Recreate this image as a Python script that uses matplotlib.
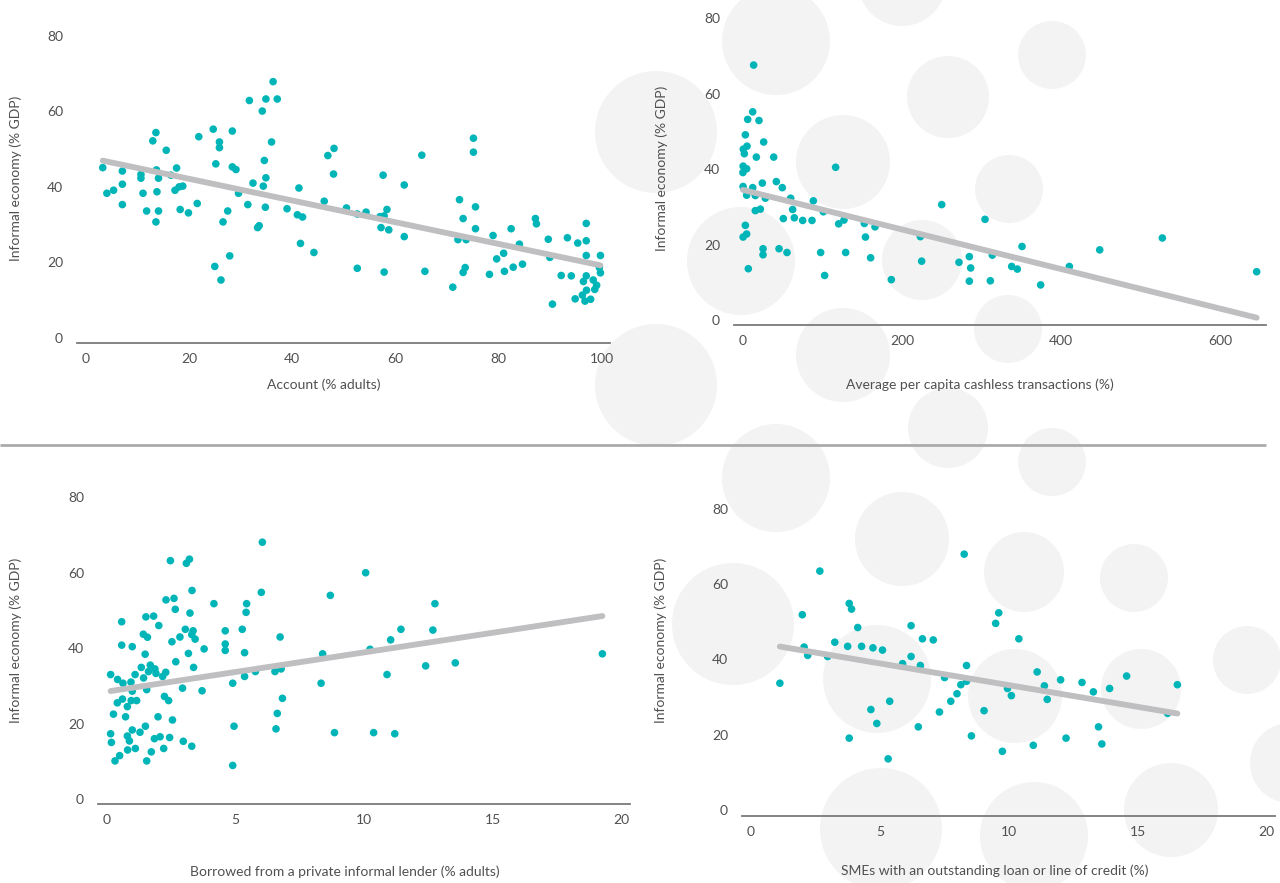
import matplotlib
matplotlib.use("Agg")
import matplotlib.pyplot as plt
from matplotlib.patches import Circle
import numpy as np

W, H, DPI = 1280, 883, 100
plt.rcParams['font.family'] = ['Lato', 'DejaVu Sans']

TEAL = '#00b5b7'
TREND = '#bfbfc1'
TEXT = '#505050'
AXIS = '#7a7a7a'
BUBBLE = '#f2f3f2'

Y_TICKS = [0, 20, 40, 60, 80]
Y_LABEL = 'Informal economy (% GDP)'

# --- Account ownership (% adults) vs informal economy (% GDP)
account_pts = [
    (3.3, 45.1), (4.1, 38.3), (5.4, 39.1), (7.1, 44.2), (7.1, 40.7), (7.1, 35.3),
    (10.7, 43.3), (10.7, 42.3), (11.1, 38.3), (11.8, 33.6), (13.0, 52.2), (13.6, 54.4),
    (13.7, 44.5), (14.1, 42.3), (13.8, 38.7), (14.1, 33.6), (13.6, 30.7), (15.6, 49.7),
    (16.5, 43.1), (17.6, 45.0), (17.3, 39.1), (18.1, 40.0), (18.8, 40.2), (18.3, 34.0),
    (19.9, 33.1), (21.6, 35.6), (21.9, 53.3), (24.7, 55.3), (25.9, 51.9), (25.9, 50.4),
    (25.2, 46.1), (28.4, 54.8), (28.4, 45.3), (29.1, 44.6), (27.5, 33.6), (26.6, 30.7),
    (29.6, 38.3), (27.9, 21.7), (25.0, 18.9), (26.2, 15.3), (31.7, 62.9), (34.2, 60.1),
    (34.9, 63.3), (36.3, 67.9), (37.1, 63.3), (36.0, 51.9), (34.6, 47.0), (34.9, 42.4),
    (34.4, 40.2), (32.4, 41.0), (31.4, 35.3), (34.8, 34.6), (33.3, 29.2), (33.6, 29.7),
    (39.0, 34.2), (41.3, 39.7), (41.0, 32.6), (42.0, 32.0), (41.6, 25.0), (44.2, 22.6),
    (46.2, 36.2), (46.9, 48.3), (48.1, 50.2), (48.0, 43.4), (50.5, 34.4),
    (52.6, 32.8), (54.3, 33.3), (52.6, 18.4), (57.6, 43.1), (58.35, 34.0), (57.0, 32.1),
    (57.8, 32.3), (57.2, 29.2), (58.7, 28.6), (57.8, 17.4), (61.7, 40.5), (61.7, 26.8),
    (65.1, 48.4), (65.7, 17.6), (71.1, 13.4), (72.4, 36.6), (73.1, 31.6), (75.5, 34.7),
    (75.5, 28.9), (72.1, 26.0), (73.7, 26.0), (73.1, 17.3), (73.5, 18.6), (75.1, 52.9),
    (75.1, 49.2), (78.2, 16.8), (78.9, 27.1), (79.6, 20.9), (80.95, 22.4), (81.1, 17.6),
    (82.4, 28.9), (82.8, 18.7), (84.0, 24.8), (84.6, 19.5), (87.1, 31.6), (87.3, 30.2),
    (89.6, 26.1), (89.9, 21.3), (90.4, 8.9), (92.1, 16.5), (93.3, 26.5), (94.05, 16.4),
    (95.3, 25.1), (96.95, 30.3), (96.95, 25.7), (96.95, 21.8), (96.95, 16.4), (96.4, 14.9),
    (94.8, 10.3), (96.2, 11.3), (96.7, 9.7), (97.8, 10.2), (97.0, 12.6), (98.3, 15.3),
    (98.96, 13.9), (98.6, 12.8), (99.7, 21.8), (99.5, 18.6), (99.7, 17.2),
]
account_trend = (47.9, -0.288)          # intercept, slope
account_xticks = [0, 20, 40, 60, 80, 100]

# --- Average per capita cashless transactions vs informal economy
cashless_pts = [
    (13.5, 67.6), (12.3, 55.2), (6.0, 53.2), (20.2, 52.9), (3.1, 49.1), (26.1, 47.2),
    (5.2, 46.1), (0.5, 45.3), (1.8, 44.1), (16.9, 43.2), (38.7, 43.2), (0.3, 40.8),
    (4.7, 40.1), (0.0, 39.1), (116.5, 40.5), (0.2, 35.4), (12.3, 35.1), (24.4, 36.3),
    (42.0, 36.7), (49.5, 35.1), (4.7, 33.1), (15.6, 33.0), (28.2, 32.3), (60.0, 32.3),
    (88.5, 31.6), (62.5, 29.3), (15.6, 29.0), (21.9, 29.4), (50.8, 26.9), (64.6, 27.1),
    (75.1, 26.4), (86.8, 26.4), (101.1, 28.7), (120.3, 25.5), (127.0, 26.5), (152.6, 25.6),
    (166.0, 24.7), (154.0, 22.0), (3.1, 25.1), (0.3, 22.0), (4.7, 22.8), (25.3, 18.9),
    (25.3, 17.3), (45.4, 18.9), (55.4, 17.9), (97.7, 17.9), (129.1, 17.9), (160.5, 16.5),
    (6.8, 13.6), (102.7, 11.8),
    (186.5, 10.7), (249.8, 30.6), (223.0, 22.1), (224.6, 15.6), (271.5, 15.3), (284.5, 16.8),
    (286.2, 13.8), (284.5, 10.3), (304.2, 26.7), (310.9, 10.4), (313.4, 17.2), (337.7, 14.2),
    (344.8, 13.5), (350.7, 19.5), (374.1, 9.3), (410.2, 14.2), (448.3, 18.6), (527.0, 21.75),
    (645.5, 12.8),
]
cashless_trend = (34.5, -0.0525)
cashless_xticks = [0, 200, 400, 600]

# --- Borrowed from a private informal lender vs informal economy
lender_pts = [
    (6.05, 68.1), (2.48, 63.2), (3.10, 62.5), (3.22, 63.6), (3.32, 55.3), (6.01, 54.8),
    (8.69, 54.0), (10.06, 60.0), (2.31, 52.8), (2.62, 53.2), (2.67, 50.3), (3.24, 49.3),
    (4.17, 51.8), (5.44, 51.8), (5.42, 49.5), (0.59, 47.0), (1.53, 48.3), (1.83, 48.5),
    (2.03, 46.0), (1.43, 43.7), (1.59, 42.9), (3.06, 45.0), (3.36, 44.6), (2.85, 42.96),
    (3.31, 43.6), (3.44, 42.4), (2.54, 41.7), (4.61, 44.6), (4.61, 41.1), (4.61, 39.4),
    (5.27, 45.0), (6.74, 42.96), (5.36, 38.8), (0.59, 40.8), (1.0, 40.4), (1.5, 38.4),
    (3.18, 38.6), (3.79, 39.8), (2.69, 36.4), (3.38, 34.9), (1.35, 34.9), (1.70, 35.5),
    (1.88, 34.5), (1.92, 33.3), (1.63, 33.8), (2.3, 33.6), (2.18, 32.5), (1.44, 32.1),
    (1.11, 33.0), (0.16, 33.0), (0.43, 31.7), (0.64, 30.7), (0.95, 31.0), (1.56, 29.0),
    (1.0, 28.6), (2.95, 29.4), (3.71, 28.7), (4.90, 30.7), (5.36, 32.5), (5.78, 33.8),
    (6.54, 33.8), (6.78, 34.5), (8.39, 38.5), (8.33, 30.7), (0.42, 25.5), (0.62, 26.5),
    (0.81, 24.5), (0.96, 26.1), (1.17, 26.1), (2.25, 27.2), (2.41, 26.1), (0.27, 22.5),
    (0.74, 21.8), (2.0, 21.8), (2.56, 20.95), (6.83, 26.7), (6.63, 22.7), (4.95, 19.3),
    (6.58, 18.6), (8.85, 17.6), (0.16, 17.3), (0.19, 15.0), (0.81, 16.7), (0.89, 15.4),
    (1.0, 18.3), (1.3, 17.7), (1.51, 19.3), (1.86, 16.0), (2.08, 16.5), (2.45, 16.3),
    (2.98, 15.3), (3.31, 14.0), (0.82, 13.0), (1.12, 13.4), (2.22, 13.4), (1.74, 12.5),
    (0.51, 11.5), (0.33, 10.1), (1.56, 10.1), (4.90, 8.9),
    (12.75, 51.8), (11.43, 45.0), (12.67, 44.8), (11.03, 42.2), (10.23, 39.7), (12.39, 35.3),
    (13.54, 36.1), (10.89, 33.0), (10.37, 17.6), (11.19, 17.3), (19.25, 38.5),
]
lender_trend = (28.46, 1.042)
lender_xticks = [0, 5, 10, 15, 20]

# --- SMEs with an outstanding loan or line of credit vs informal economy
sme_pts = [
    (8.27, 68.0), (2.67, 63.5), (1.99, 51.9), (3.81, 54.9), (3.90, 53.4), (4.14, 48.5),
    (6.21, 49.0), (6.65, 45.5), (7.07, 45.2), (9.61, 52.4), (9.49, 49.6), (10.39, 45.5),
    (2.06, 43.3), (2.20, 41.1), (3.25, 44.6), (3.75, 43.5), (4.29, 43.5), (4.73, 43.1),
    (5.10, 42.5), (2.97, 40.8), (6.21, 40.8), (5.88, 38.9), (6.57, 38.4), (1.12, 33.7),
    (7.51, 35.2), (8.36, 38.4), (8.36, 34.2), (8.14, 33.3), (7.99, 30.9), (7.75, 28.9),
    (7.31, 26.05), (5.38, 28.9), (4.65, 26.7), (4.88, 23.0), (6.49, 22.1), (3.81, 19.1),
    (5.32, 13.6), (9.04, 26.4), (8.55, 19.7), (9.75, 15.6), (9.95, 32.3), (10.10, 30.4),
    (11.1, 36.7), (11.38, 33.0), (11.49, 29.4), (10.95, 17.2), (12.01, 34.6), (12.22, 19.1),
    (12.84, 33.9), (13.28, 31.4), (13.91, 32.3), (14.57, 35.6), (13.48, 22.1), (13.61, 17.55),
    (16.54, 33.3), (16.16, 25.7),
]
sme_trend = (44.73, -1.154)
sme_xticks = [0, 5, 10, 15, 20]

# decorative background discs: centre x, centre y, radius (figure pixels, y down)
bubbles = [
    (656, 132, 61), (776, 41, 54), (902, -18, 44), (948, 97, 41), (1052, 55, 34),
    (843, 162, 47), (741, 261, 54), (922, 260, 40), (1009, 189, 34), (1008, 329, 34),
    (843, 355, 47), (656, 385, 61), (948, 428, 40), (1052, 462, 34), (776, 478, 54),
    (902, 539, 47), (1024, 572, 40), (1134, 578, 34), (733, 624, 61), (877, 679, 54),
    (1015, 696, 47), (1141, 689, 40), (1247, 660, 34), (1290, 763, 40), (881, 829, 61),
    (1034, 836, 54), (1171, 810, 47),
]

# panel frames in pixels: axis left/right, baseline, x of 0, px per unit, y of 0, px per unit
panels = [
    dict(pts=account_pts, trend=account_trend, xticks=account_xticks,
         xlabel='Account (% adults)', left=77, right=610, base=343,
         x0=85.7, xs=5.163, y0=337.7, ys=3.771, xlab=(324, 385), ylab=(16, 178)),
    dict(pts=cashless_pts, trend=cashless_trend, xticks=cashless_xticks,
         xlabel='Average per capita cashless transactions (%)', left=734, right=1266, base=325,
         x0=742.9, xs=0.7959, y0=320.0, ys=3.771, xlab=(980, 385), ylab=(662, 168)),
    dict(pts=lender_pts, trend=lender_trend, xticks=lender_xticks,
         xlabel='Borrowed from a private informal lender (% adults)', left=98, right=630, base=804,
         x0=106.5, xs=25.76, y0=799.0, ys=3.771, xlab=(345, 872), ylab=(16, 640)),
    dict(pts=sme_pts, trend=sme_trend, xticks=sme_xticks,
         xlabel='SMEs with an outstanding loan or line of credit (%)', left=742, right=1275, base=816,
         x0=751.0, xs=25.78, y0=810.0, ys=3.7625, xlab=(995, 871), ylab=(661, 640)),
]

fig = plt.figure(figsize=(W / DPI, H / DPI), dpi=DPI)
fig.patch.set_facecolor('white')

bg = fig.add_axes([0, 0, 1, 1], zorder=0)
bg.set_xlim(0, W)
bg.set_ylim(H, 0)
bg.axis('off')
for cx, cy, r in bubbles:
    bg.add_patch(Circle((cx, cy), r, facecolor=BUBBLE, edgecolor='none'))
bg.plot([0, 1266], [445, 445], color='#ababab', lw=2.0, solid_capstyle='butt')

Y_TOP = 82
for p in panels:
    top = p['y0'] - Y_TOP * p['ys']
    ax = fig.add_axes([p['left'] / W, 1 - p['base'] / H,
                       (p['right'] - p['left']) / W, (p['base'] - top) / H], zorder=1)
    ax.patch.set_alpha(0)
    ax.set_xlim((p['left'] - p['x0']) / p['xs'], (p['right'] - p['x0']) / p['xs'])
    ax.set_ylim((p['y0'] - p['base']) / p['ys'], Y_TOP)
    for side in ('top', 'right', 'left'):
        ax.spines[side].set_visible(False)
    ax.spines['bottom'].set_color(AXIS)
    ax.spines['bottom'].set_linewidth(1.3)
    ax.set_xticks(p['xticks'])
    ax.set_yticks(Y_TICKS)
    ax.tick_params(axis='x', length=0, pad=7, labelsize=10, colors=TEXT)
    ax.tick_params(axis='y', length=0, pad=10, labelsize=10, colors=TEXT)

    x = np.array([a for a, _ in p['pts']])
    y = np.array([b for _, b in p['pts']])
    ax.scatter(x, y, s=30, color=TEAL, edgecolors='none', zorder=2, clip_on=False)

    b0, b1 = p['trend']
    tx = np.array([x.min(), x.max()])
    ax.plot(tx, b0 + b1 * tx, color=TREND, lw=4.2, solid_capstyle='round', zorder=3)

    fig.text(p['xlab'][0] / W, 1 - p['xlab'][1] / H, p['xlabel'],
             ha='center', va='center', fontsize=10, color=TEXT)
    fig.text(p['ylab'][0] / W, 1 - p['ylab'][1] / H, Y_LABEL, rotation=90,
             ha='center', va='center', fontsize=10, color=TEXT)

fig.savefig('out.png', dpi=DPI)
